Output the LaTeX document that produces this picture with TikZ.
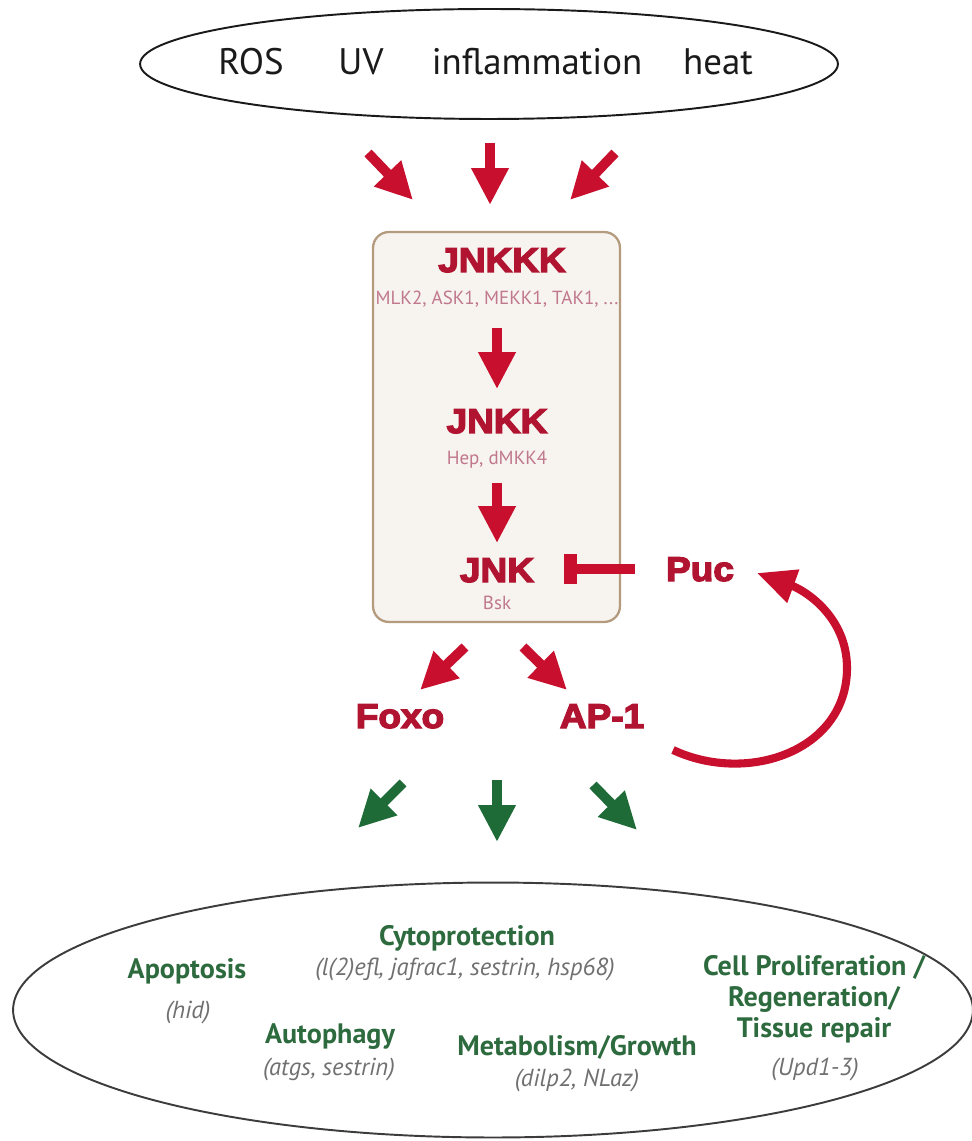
\documentclass[tikz,border=0pt]{standalone}
\usepackage{fontspec}
\setmainfont{PT Sans}
\newfontfamily\heavyfont{Liberation Sans}[BoldFeatures={FakeBold=4,FakeStretch=1.08}]
\usetikzlibrary{arrows.meta,shapes.geometric,positioning}
\definecolor{jkInk}{HTML}{1A1A1A}
\definecolor{jkRed}{HTML}{C8102E}
\definecolor{jkCrimson}{HTML}{B01430}
\definecolor{jkPink}{HTML}{C0788C}
\definecolor{jkTan}{HTML}{B59B7E}
\definecolor{jkWash}{HTML}{F7F3EF}
\definecolor{jkGreen}{HTML}{1F6B38}
\definecolor{jkLeaf}{HTML}{2D6A3E}
\definecolor{jkGrey}{HTML}{707070}
\tikzset{
  jk diagram/.style={x=0.02cm, y=-0.02cm, line join=miter},
  jk stress/.style={ellipse, draw=jkInk, line width=1.1pt, inner sep=0pt},
  jk cue/.style={font=\fontsize{21}{24}\selectfont, text=jkInk,
    inner sep=0pt, anchor=base},
  jk kinase box/.style={draw=jkTan, fill=jkWash, line width=1.3pt,
    rounded corners=9pt, inner sep=0pt},
  jk kinase/.style={font=\heavyfont\bfseries\fontsize{19.5}{22}\selectfont,
    text=jkCrimson, inner sep=0pt, anchor=base},
  jk alias/.style={font=\fontsize{10.8}{12}\selectfont, text=jkPink,
    inner sep=0pt, anchor=base},
  jk arrow/.style={-{Triangle[length=21pt,width=20pt]}, draw=jkRed,
    line width=5.6pt},
  jk green arrow/.style={jk arrow, draw=jkGreen},
  jk block/.style={-{Bar[width=17pt,line width=7pt]}, draw=jkRed,
    line width=5.6pt},
  jk loop/.style={-{Triangle[length=22pt,width=19pt]}, draw=jkRed,
    line width=4.6pt},
  jk outcome ring/.style={ellipse, draw=jkInk!85, line width=1.1pt,
    inner sep=0pt},
  jk outcome/.style={font=\bfseries\fontsize{16}{17.4}\selectfont,
    text=jkLeaf, inner sep=0pt, anchor=base, align=center},
  jk gene/.style={font=\itshape\fontsize{14}{16}\selectfont, text=jkGrey,
    inner sep=0pt, anchor=base}
}
\begin{document}
\begin{tikzpicture}[jk diagram]
\useasboundingbox (0,0) rectangle (971,1141);
% stress inputs
\node[jk stress, minimum width=13.96cm, minimum height=2.2cm] (stress) at (489,64) {};
\node[jk cue] (ros) at (251,75) {ROS};
\node[jk cue] (uv) at (361,75) {UV};
\node[jk cue] (infl) at (537,75) {inflammation};
\node[jk cue] (heat) at (718,75) {heat};
\coordinate (inLt) at (368,153); \coordinate (inLh) at (413,200);
\coordinate (inCt) at (490,143); \coordinate (inCh) at (490,205);
\coordinate (inRt) at (615,153); \coordinate (inRh) at (570,200);
\foreach \t/\h in {inLt/inLh,inCt/inCh,inRt/inRh}
  \draw[jk arrow] (\t) -- (\h);
% kinase cascade
\node[jk kinase box, minimum width=4.94cm, minimum height=7.8cm] (box) at (496.5,427) {};
\node[jk kinase] (jnkkk) at (502,272) {JNKKK};
\node[jk alias] (mlk) at (497,305) {MLK2, ASK1, MEKK1, TAK1, ...};
\node[jk kinase] (jnkk) at (497,433) {JNKK};
\node[jk alias] (hep) at (497,464) {Hep, dMKK4};
\node[jk kinase] (jnk) at (497,582) {JNK};
\node[jk alias] (bsk) at (497,609) {Bsk};
\draw[jk arrow, shorten <=0.4cm, shorten >=0.4cm] (mlk.south) -- (jnkk.north);
\draw[jk arrow, shorten <=0.3cm, shorten >=0.3cm] (hep.south) -- (jnk.north);
\node[jk kinase] (puc) at (700,581) {Puc};
\draw[jk block, shorten <=0.62cm, shorten >=0.6cm] (puc.west) -- (jnk.east |- puc.west);
% transcription factors
\node[jk kinase] (foxo) at (400,728) {Foxo};
\node[jk kinase] (ap1) at (602,728) {AP-1};
\coordinate (tfLt) at (465,647); \coordinate (tfLh) at (420,690);
\coordinate (tfRt) at (523,647); \coordinate (tfRh) at (567,690);
\draw[jk arrow] (tfLt) -- (tfLh);
\draw[jk arrow] (tfRt) -- (tfRh);
\coordinate (fbStart) at (673,750);
\coordinate (loopR) at (847,668);
\coordinate (fbTip) at (757,573);
\draw[jk loop] (fbStart) to[out=-25,in=-90,looseness=1.1] (loopR)
  to[out=90,in=-20] (fbTip);
% outputs
\coordinate (outLt) at (403,783); \coordinate (outLh) at (358,828);
\coordinate (outCt) at (497,780); \coordinate (outCh) at (497,842);
\coordinate (outRt) at (593,785); \coordinate (outRh) at (637,830);
\foreach \t/\h in {outLt/outLh,outCt/outCh,outRt/outRh}
  \draw[jk green arrow] (\t) -- (\h);
\node[jk outcome ring, minimum width=19.2cm, minimum height=5.1cm] (ring) at (493,1010) {};
\node[jk outcome] (cyto) at (467,945) {Cytoprotection};
\node[jk gene] (cytog) at (465,975) {(l(2)efl, jafrac1, sestrin, hsp68)};
\node[jk outcome] (apo) at (187,978) {Apoptosis};
\node[jk gene] (apog) at (188,1018) {(hid)};
\node[jk outcome] (auto) at (330,1043) {Autophagy};
\node[jk gene] (autog) at (329,1075) {(atgs, sestrin)};
\node[jk outcome] (meta) at (577,1055) {Metabolism/Growth};
\node[jk gene] (metag) at (577,1086) {(dilp2, NLaz)};
\node[jk outcome] (prolif) at (814,1037) {Cell Proliferation /\\Regeneration/\\Tissue repair};
\node[jk gene] (prolifg) at (815,1075) {(Upd1-3)};
\end{tikzpicture}
\end{document}
